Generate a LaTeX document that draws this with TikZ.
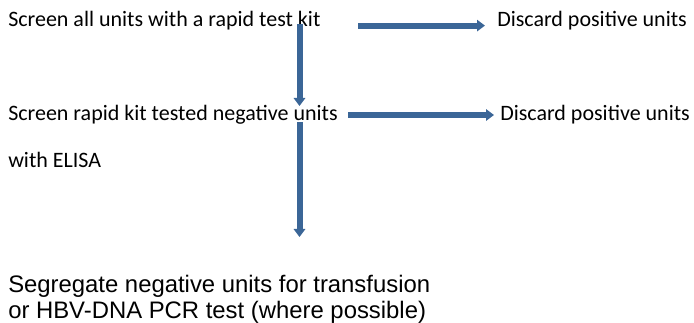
\documentclass[tikz,border=0pt]{standalone}
\usepackage{fontspec}
\setmainfont{Carlito}
\newfontfamily\arialfont{Liberation Sans}
\usepackage{xcolor}
\usetikzlibrary{arrows.meta}
\definecolor{flowblue}{HTML}{3B6697}
\tikzset{
  steptext/.style={anchor=base west,inner sep=0pt,font=\fontsize{16.5pt}{20pt}\selectfont},
  flow/.style={line width=4.5pt,draw=flowblue,-{Triangle[length=6pt,width=8.5pt]}}
}

\begin{document}
\begin{tikzpicture}[x=0.75pt,y=-0.75pt]
      \useasboundingbox (0,0) rectangle (694,323);
      \node[steptext] (kit) at (8,27) {Screen all units with a rapid test kit};
      \node[steptext] (kitpos) at (497,27) {Discard positive units};
      \node[steptext] (elisa) at (8,121) {Screen rapid kit tested negative units};
      \node[steptext] (elisapos) at (500,121) {Discard positive units};
      \node[steptext] (elisa2) at (8,168) {with ELISA};
      \node[anchor=base west,inner sep=0pt,align=left,
            font=\arialfont\fontsize{17.9pt}{19.5pt}\selectfont] (segr) at (8,319)
            {Segregate negative units for transfusion\\or HBV-DNA PCR test (where possible)};
      % arrow ends
      \coordinate (a1) at (358,25.6);
      \coordinate (a2) at (485,25.6);
      \coordinate (b1) at (299.5,24);
      \coordinate (b2) at (299.5,106);
      \coordinate (c1) at (348,115);
      \coordinate (c2) at (494,115);
      \coordinate (d1) at (299.5,122);
      \coordinate (d2) at (299.5,237);
      \draw[flow] (a1) -- (a2);
      \draw[flow] (b1) -- (b2);
      \draw[flow] (c1) -- (c2);
      \draw[flow] (d1) -- (d2);
\end{tikzpicture}
\end{document}
